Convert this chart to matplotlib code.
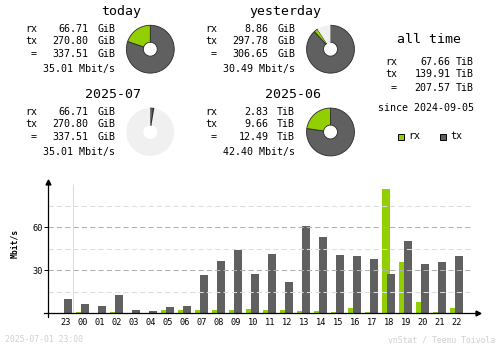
import matplotlib
matplotlib.use("Agg")
import matplotlib.pyplot as plt
import numpy as np

W, H = 500, 348
RX_C = '#92cf00'
TX_C = '#606060'
EMPTY_C = '#f0f0f0'

# summary numbers: rx, tx, total
today = [66.71, 270.80, 337.51]        # GiB
today_rate = 35.01
yday = [8.86, 297.78, 306.65]          # GiB
yday_rate = 30.49
month_now = [66.71, 270.80, 337.51]    # GiB  (2025-07)
month_now_rate = 35.01
month_prev = [2.83, 9.66, 12.49]       # TiB  (2025-06)
month_prev_rate = 42.40
alltime = [67.66, 139.91, 207.57]      # TiB

# hourly rates, Mbit/s
hours = ['23', '00', '01', '02', '03', '04', '05', '06', '07', '08', '09', '10',
         '11', '12', '13', '14', '15', '16', '17', '18', '19', '20', '21', '22']
rx_rate = [0, 0.9, 0, 0.9, 0, 0, 2.3, 2.3, 2.3, 2.3, 2.3, 3.0,
           2.3, 2.3, 1.6, 1.6, 0.9, 3.7, 0.9, 86.8, 35.8, 7.9, 0.9, 3.7]
tx_rate = [10.0, 6.5, 5.1, 12.8, 2.3, 1.6, 4.7, 5.1, 26.7, 36.5, 44.2, 27.4,
           41.4, 21.9, 61.0, 53.3, 40.7, 40.0, 37.9, 27.4, 50.5, 34.4, 35.8, 40.0]

fig = plt.figure(figsize=(5, 3.48), dpi=100)
fig.patch.set_facecolor('white')
MONO = 'DejaVu Sans Mono'


def t(x, y, s, size=7.2, ha='left', color='black', **kw):
    fig.text(x / W, 1 - y / H, s, ha=ha, va='center', fontsize=size,
             family=MONO, color=color, **kw)


def block(x0, y0, title, vals, unit, rate, numx, unitx, titlex):
    t(titlex, y0, title, size=9.5, ha='right')
    rows = [('rx', vals[0]), ('tx', vals[1]), (' =', vals[2])]
    ys = [y0 + 17.6, y0 + 29.6, y0 + 42.6]
    for (lab, v), yy in zip(rows, ys):
        t(x0, yy, lab)
        t(numx, yy, f'{v:.2f}', ha='right')
        t(unitx, yy, unit, ha='right')
    t(unitx, y0 + 57.4, f'{rate:.2f} Mbit/s', ha='right')


def donut(cx, cy, parts, base):
    r = 24.4
    ax = fig.add_axes([(cx - r) / W, 1 - (cy + r) / H, 2 * r / W, 2 * r / H])
    tx, rx = parts[1] / base, parts[0] / base
    empty = max(0.0, 1 - tx - rx)
    ws, _ = ax.pie([tx, rx, empty], colors=[TX_C, RX_C, EMPTY_C], startangle=90,
                   counterclock=False, normalize=False,
                   wedgeprops=dict(width=0.71, edgecolor='#2a2a2a', linewidth=0.6))
    ws[2].set_edgecolor('none')
    for w, v in zip(ws, [tx, rx, empty]):
        if v <= 0:
            w.set_visible(False)
    ax.set_xlim(-1.02, 1.02)
    ax.set_ylim(-1.02, 1.02)
    ax.axis('off')


block(25, 11.7, 'today', today, 'GiB', today_rate, 88.5, 115, 141.5)
block(205, 11.7, 'yesterday', yday, 'GiB', yday_rate, 268.5, 295, 321.5)
block(25, 94.3, '2025-07', month_now, 'GiB', month_now_rate, 88.5, 115, 141.5)
block(205, 94.3, '2025-06', month_prev, 'TiB', month_prev_rate, 268.5, 295, 321.5)

day_base = max(today[2], yday[2])
donut(150.3, 49.2, today, day_base)
donut(330.5, 49.2, yday, day_base)
month_now_tib = [v / 1024 for v in month_now]
month_base = max(month_now_tib[2], month_prev[2])
donut(150.3, 132, month_now_tib, month_base)
donut(330.5, 132, month_prev, month_base)

# all time
t(429, 39.3, 'all time', size=9.5, ha='center')
for lab, v, yy in [('rx', alltime[0], 61.7), ('tx', alltime[1], 73.7),
                   (' =', alltime[2], 87.7)]:
    t(385, yy, lab)
    t(450.5, yy, f'{v:.2f}', ha='right')
    t(474, yy, 'TiB', ha='right')
t(474, 107.7, 'since 2024-09-05', ha='right')

# legend
for x0, c, lab in [(398, RX_C, 'rx'), (440, TX_C, 'tx')]:
    fig.add_artist(plt.Rectangle((x0 / W, 1 - 139.5 / H), 6 / W, 6 / H,
                                 transform=fig.transFigure, facecolor=c,
                                 edgecolor='black', linewidth=0.7))
    t(x0 + 10.5, 136, lab)

# hourly chart
ax = fig.add_axes([44.3 / W, 1 - 313.3 / H, (478 - 44.3) / W, (313.3 - 182) / H])
x = np.arange(len(hours))
ax.set_xlim(-1.276, 24.235)
ax.set_ylim(0, 91.6)
yx = -1.041

for lvl in [15, 30, 45, 60, 75]:
    ax.hlines(lvl, yx, 23.92, colors='#b0b0b0' if lvl % 30 == 0 else '#dcdcdc',
              linestyles=(0, (5, 3)), linewidth=0.75)
ax.vlines(0.43, 0, 90.2, colors='#dcdcdc', linewidth=0.75)

ax.bar(x - 0.176, rx_rate, width=0.47, color=RX_C, linewidth=0)
ax.bar(x + 0.118, tx_rate, width=0.47, color=TX_C, linewidth=0)

for s in ['top', 'right']:
    ax.spines[s].set_visible(False)
ax.spines['left'].set_position(('data', yx))
ax.spines['left'].set_linewidth(0.9)
ax.spines['bottom'].set_linewidth(0.9)
ax.plot([yx, yx], [0, -2.8], color='black', linewidth=0.9, clip_on=False)
ax.plot([yx], [91.6], marker='^', color='black', markersize=3.5, clip_on=False)
ax.plot([24.235], [0], marker='>', color='black', markersize=3.5, clip_on=False)

ax.set_xticks(x)
ax.set_xticklabels(hours, family=MONO, fontsize=6.2)
ax.tick_params(axis='x', length=0, pad=3.2)
ax.set_yticks([30, 60])
ax.set_yticklabels(['30', '60'], family=MONO, fontsize=6.2)
ax.tick_params(axis='y', length=2.9, width=0.7, pad=1.2)
ax.patch.set_alpha(0)
fig.text(14.5 / W, 1 - 243 / H, 'Mbit/s', rotation=90, ha='center', va='center',
         fontsize=5.8, family=MONO, weight='bold')

# footer
t(5, 340, '2025-07-01 23:00', size=5.9, color='#d0d0d0')
t(495, 340, 'vnStat / Teemu Toivola', size=5.9, ha='right', color='#d0d0d0')

fig.savefig('out.png', dpi=100)
